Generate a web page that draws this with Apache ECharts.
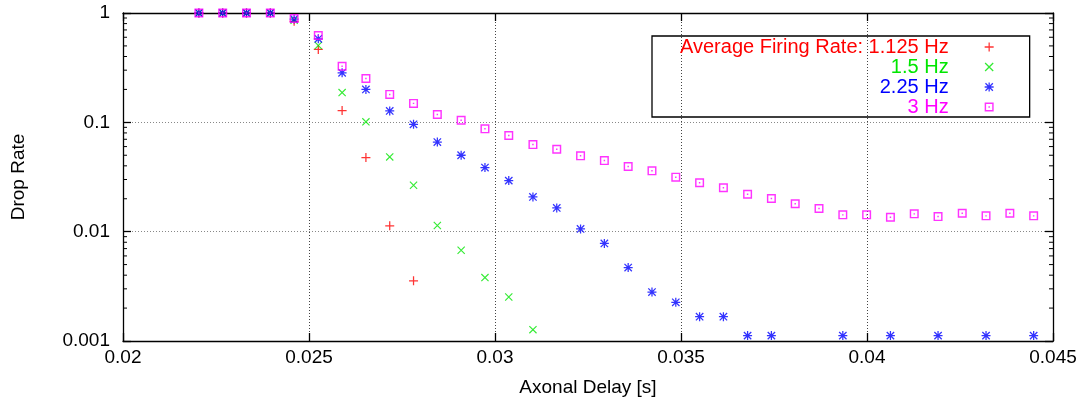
<!DOCTYPE html>
<html>
<head>
<meta charset="utf-8">
<script src="https://cdn.jsdelivr.net/npm/echarts@6/dist/echarts.min.js"></script>
<style>
html, body { margin: 0; padding: 0; background: #fff; }
#chart { width: 1086px; height: 403px; }
</style>
</head>
<body>
<div id="chart"></div>
<script>
// axonal delay values (x), shared by every series
var delays = [0.02204, 0.02268, 0.02332, 0.02396, 0.02460, 0.02525, 0.02589, 0.02653, 0.02717, 0.02781,
    0.02845, 0.02909, 0.02973, 0.03037, 0.03102, 0.03166, 0.03230, 0.03294, 0.03358, 0.03422,
    0.03486, 0.03550, 0.03614, 0.03679, 0.03743, 0.03807, 0.03871, 0.03935, 0.03999, 0.04063,
    0.04127, 0.04191, 0.04256, 0.04320, 0.04384, 0.04448]

// drop rates, null = zero (not drawn on log axis)
var rate1125 = [1, 1, 1, 1, 0.84, 0.464, 0.128, 0.0476, 0.0113, 0.00355]
var rate15 = [1, 1, 1, 1, 0.86, 0.504, 0.187, 0.101, 0.0483, 0.0266, 0.0114, 0.00676, 0.0038, 0.00253, 0.00127]
var rate225 = [1, 1, 1, 1, 0.88, 0.581, 0.284, 0.200, 0.127, 0.096, 0.066, 0.050, 0.0386, 0.0293, 0.0208,
    0.0165, 0.0106, 0.0078, 0.0047, 0.0028, 0.00226, 0.00167, 0.00167, 0.00112, 0.00112, null, null,
    0.00112, null, 0.00112, null, 0.00112, null, 0.00112, null, 0.00112]
var rate3 = [1, 1, 1, 1, 0.891, 0.622, 0.326, 0.252, 0.180, 0.149, 0.118, 0.1045, 0.0872, 0.0757, 0.0626,
    0.0567, 0.0494, 0.0447, 0.0394, 0.036, 0.0315, 0.028, 0.0252, 0.022, 0.0201, 0.018, 0.0163, 0.01425,
    0.01425, 0.01354, 0.01455, 0.01374, 0.01474, 0.01395, 0.01474, 0.01395]

var seriesNames = ['Average Firing Rate: 1.125 Hz', '1.5 Hz', '2.25 Hz', '3 Hz']
var seriesColors = ['#ff0000', '#00e600', '#0000ff', '#ff00ff']

var xTicks = [0.02, 0.025, 0.03, 0.035, 0.04, 0.045]
var yTicks = [0.001, 0.01, 0.1, 1]
var yMinorTicks = [0.002, 0.003, 0.004, 0.005, 0.006, 0.007, 0.008, 0.009,
    0.02, 0.03, 0.04, 0.05, 0.06, 0.07, 0.08, 0.09,
    0.2, 0.3, 0.4, 0.5, 0.6, 0.7, 0.8, 0.9]

var FONT = '"Liberation Sans", Arial, Helvetica, sans-serif'

// gnuplot style point symbols
var symPlus = 'path://M4.3,0H5.7V4.3H10V5.7H5.7V10H4.3V5.7H0V4.3H4.3Z'
var symCross = 'path://M0,1L1,0L10,9L9,10Z M9,0L10,1L1,10L0,9Z'
var symStar = 'path://M4.3,0H5.7V4.3H10V5.7H5.7V10H4.3V5.7H0V4.3H4.3Z M0.4,1.4L1.4,0.4L9.6,8.6L8.6,9.6Z M8.6,0.4L9.6,1.4L1.4,9.6L0.4,8.6Z'
var symBox = 'path://M0,0H10V10H0Z M1.6,1.6V8.4H8.4V1.6Z M4.2,4.2H5.8V5.8H4.2Z'

function pairs(values) {
    var out = []
    values.forEach(function (v, i) {
        if (v != null) out.push([delays[i], v])
    })
    return out
}

function pointSeries(idx, values, symbol, size) {
    return {
        name: seriesNames[idx],
        type: 'scatter',
        data: pairs(values),
        symbol: symbol,
        symbolSize: size,
        itemStyle: { color: seriesColors[idx] },
        emphasis: { disabled: true },
        silent: true
    }
}

var chart = echarts.init(document.getElementById('chart'))
chart.setOption({
    animation: false,
    backgroundColor: '#fff',
    textStyle: { fontFamily: FONT },
    grid: { left: 123, right: 33, top: 13, bottom: 62 },
    legend: {
        orient: 'vertical',
        left: 652,
        top: 36,
        align: 'right',
        itemWidth: 9,
        itemHeight: 9,
        itemGap: 0,
        padding: [1, 36, 0, 28],
        borderColor: '#000',
        borderWidth: 1.3,
        selectedMode: false,
        textStyle: { fontSize: 20, fontFamily: FONT, width: 268, lineHeight: 20, align: 'right', padding: [0, 31, 0, 0] },
        data: seriesNames.map(function (n, i) {
            return { name: n, textStyle: { color: seriesColors[i] } }
        })
    },
    xAxis: [{
        type: 'value',
        min: xTicks[0],
        max: xTicks[xTicks.length - 1],
        interval: 0.005,
        name: 'Axonal Delay [s]',
        nameLocation: 'middle',
        nameGap: 37,
        nameTextStyle: { fontSize: 19, color: '#000', fontFamily: FONT },
        axisLine: { lineStyle: { color: '#000', width: 1.3 } },
        axisTick: { inside: true, length: 8, lineStyle: { color: '#000', width: 1.3 } },
        axisLabel: { margin: 7, fontSize: 19, color: '#000', fontFamily: FONT },
        splitLine: { show: true, lineStyle: { color: '#444', type: [1, 2], width: 1 } }
    }, {
        type: 'value',
        position: 'top',
        min: xTicks[0],
        max: xTicks[xTicks.length - 1],
        interval: 0.005,
        axisLine: { lineStyle: { color: '#000', width: 1.3 } },
        axisTick: { inside: true, length: 8, lineStyle: { color: '#000', width: 1.3 } },
        axisLabel: { show: false },
        splitLine: { show: false }
    }],
    yAxis: [{
        type: 'log',
        logBase: 10,
        min: yTicks[0],
        max: yTicks[yTicks.length - 1],
        name: 'Drop Rate',
        nameLocation: 'middle',
        nameGap: 95,
        nameTextStyle: { fontSize: 19, color: '#000', fontFamily: FONT },
        axisLine: { lineStyle: { color: '#000', width: 1.3 } },
        axisTick: { inside: true, length: 8, lineStyle: { color: '#000', width: 1.3 } },
        axisLabel: { margin: 13, fontSize: 19, color: '#000', fontFamily: FONT },
        splitLine: { show: true, lineStyle: { color: '#888', type: [1, 2], width: 1 } }
    }, {
        type: 'log',
        logBase: 10,
        position: 'right',
        min: yTicks[0],
        max: yTicks[yTicks.length - 1],
        axisLine: { lineStyle: { color: '#000', width: 1.3 } },
        axisTick: { inside: true, length: 8, lineStyle: { color: '#000', width: 1.3 } },
        axisLabel: { show: false },
        splitLine: { show: false }
    }],
    series: [
        {
            // minor ticks of the log axis, left and right frame
            type: 'custom',
            silent: true,
            clip: false,
            data: yMinorTicks.map(function (v) { return [xTicks[0], v] }),
            renderItem: function (params, api) {
                var v = api.value(1)
                var l = api.coord([xTicks[0], v])
                var r = api.coord([xTicks[xTicks.length - 1], v])
                return {
                    type: 'group',
                    children: [
                        { type: 'line', shape: { x1: l[0], y1: l[1], x2: l[0] + 4, y2: l[1] }, style: { stroke: '#000', lineWidth: 1 } },
                        { type: 'line', shape: { x1: r[0] - 4, y1: r[1], x2: r[0], y2: r[1] }, style: { stroke: '#000', lineWidth: 1 } }
                    ]
                }
            }
        },
        pointSeries(0, rate1125, symPlus, 9),
        pointSeries(1, rate15, symCross, 8),
        pointSeries(2, rate225, symStar, 9),
        pointSeries(3, rate3, symBox, 9)
    ]
})
</script>
</body>
</html>
